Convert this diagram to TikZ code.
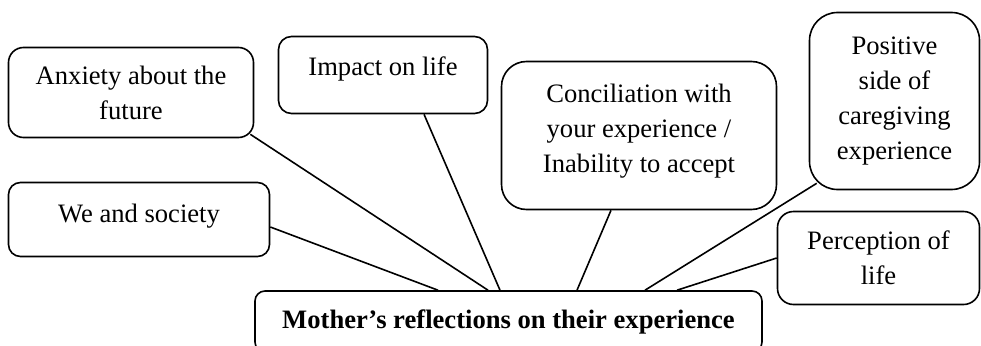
\documentclass[tikz,border=0pt]{standalone}
\usepackage{fontspec}
\setmainfont{Liberation Serif}
\usetikzlibrary{calc}

\begin{document}
\begin{tikzpicture}[x=1pt, y=-1pt,
    box/.style={draw, line width=1.6pt, rounded corners=#1, align=center, inner sep=0pt, font=\fontsize{26.6}{35}\selectfont},
    link/.style={-, line width=1.6pt}]

    \useasboundingbox (0, 0) rectangle (981, 345);
    \clip (0, 0) rectangle (981, 345);

    \node[box=10pt, minimum width=507pt, minimum height=61pt, font=\fontsize{26.6}{35}\selectfont\bfseries] (0) at (508.5, 321.5) {Mother’s reflections on their experience};

    \node[box=15pt, minimum width=245pt, minimum height=90pt] (1) at (131, 92.5) {Anxiety about the\\future};
    \node[box=13pt, minimum width=209pt, minimum height=77pt, text depth=18pt] (2) at (383, 75) {Impact on life};
    \node[box=25pt, minimum width=275pt, minimum height=148pt, text depth=14pt] (3) at (639, 135.5) {Conciliation with\\your experience /\\Inability to accept};
    \node[box=28pt, minimum width=170pt, minimum height=177pt] (4) at (894.5, 101) {Positive\\side of\\caregiving\\experience};
    \node[box=12pt, minimum width=261pt, minimum height=74pt, text depth=12pt] (5) at (139, 219.5) {We and society};
    \node[box=16pt, minimum width=202pt, minimum height=93pt] (6) at (878.5, 258) {Perception of\\life};

    \draw[link] ([xshift=-4pt, yshift=4pt]1.south east) -- ([xshift=-20.5pt]0.north);
    \draw[link] ([xshift=41pt]2.south) -- ([xshift=-8.5pt]0.north);
    \draw[link] ([xshift=-28pt]3.south) -- ([xshift=68.5pt]0.north);
    \draw[link] ([xshift=8pt, yshift=7pt]4.south west) -- ([xshift=136.5pt]0.north);
    \draw[link] ([yshift=-7.5pt]5.east) -- ([xshift=-70.5pt]0.north);
    \draw[link] (6.west) -- ([xshift=168.5pt]0.north);
    \end{tikzpicture}
\end{document}
